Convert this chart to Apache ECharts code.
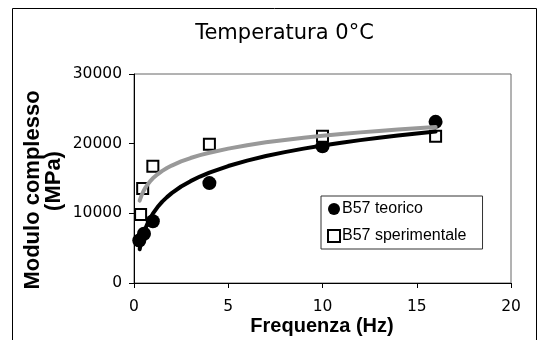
<!DOCTYPE html>
<html>
<head>
<meta charset="utf-8">
<script src="https://cdn.jsdelivr.net/npm/echarts@6/dist/echarts.min.js"></script>
<style>html,body{margin:0;padding:0;background:#fff;}#c{width:548px;height:340px;}</style>
</head>
<body>
<div id="c"></div>
<script>
// ---- data ----
const titleText = 'Temperatura 0°C';
const xTitle = 'Frequenza (Hz)';
const yTitle1 = 'Modulo complesso';
const yTitle2 = '(MPa)';
const seriesNames = ['B57 teorico', 'B57 sperimentale'];

const freqTeorico = [0.28, 0.53, 1, 4, 10, 16];
const valTeorico = [6090, 7060, 8870, 14340, 19630, 23130];
const freqSper = [0.35, 0.46, 1, 4, 10, 16];
const valSper = [9840, 13580, 16750, 19920, 21070, 21070];

// trendline curves as drawn in the picture (logarithmic trends), read at these frequencies
const trendX = [0.3, 0.4, 0.5, 0.6, 0.7, 0.85, 1, 1.25, 1.5, 1.75, 2, 2.5, 3, 3.5, 4, 5, 6, 7, 8, 9, 10, 11, 12, 13, 14, 15, 16];
const trendTeorico = [4840, 6060, 7010, 7780, 8440, 9260, 9950, 10900, 11680, 12330, 12900, 13850, 14620, 15280, 15840, 16790, 17570, 18220, 18790, 19290, 19740, 20140, 20510, 20850, 21170, 21460, 21730];
const trendSper = [11820, 12580, 13170, 13660, 14070, 14580, 15020, 15610, 16090, 16500, 16860, 17450, 17940, 18350, 18700, 19290, 19780, 20190, 20540, 20850, 21130, 21390, 21620, 21830, 22030, 22210, 22380];

const xTicks = {min: 0, max: 20, interval: 5};
const yTicks = {min: 0, max: 30000, interval: 10000};

function pairs(xs, ys) { return xs.map((x, i) => [x, ys[i]]); }

const chart = echarts.init(document.getElementById('c'), null, {renderer: 'canvas'});
const tickFont = 'DejaVu Sans';
chart.setOption({
  animation: false,
  backgroundColor: '#fff',
  grid: {left: 134, top: 74, width: 377, height: 209, show: true, borderColor: '#666', borderWidth: 1, backgroundColor: 'transparent'},
  xAxis: {
    type: 'value', min: xTicks.min, max: xTicks.max, interval: xTicks.interval,
    axisLine: {show: true, onZero: false, lineStyle: {color: '#000', width: 1}},
    axisTick: {show: true, inside: false, length: 5, lineStyle: {color: '#000'}},
    splitLine: {show: false},
    axisLabel: {color: '#000', fontSize: 15.5, fontFamily: tickFont, margin: 16, formatter: v => String(v)}
  },
  yAxis: {
    type: 'value', min: yTicks.min, max: yTicks.max, interval: yTicks.interval,
    axisLine: {show: true, onZero: false, lineStyle: {color: '#000', width: 1}},
    axisTick: {show: true, inside: false, length: 5, lineStyle: {color: '#000'}},
    splitLine: {show: false},
    axisLabel: {color: '#000', fontSize: 15.5, fontFamily: tickFont, margin: 12, formatter: v => String(v)}
  },
  legend: {
    data: seriesNames,
    orient: 'vertical',
    left: 321, top: 196,
    padding: [5, 16, 5, 6],
    itemGap: 11,
    itemWidth: 12, itemHeight: 12,
    borderColor: '#333', borderWidth: 1, backgroundColor: '#fff',
    textStyle: {color: '#000', fontSize: 16, lineHeight: 16, fontFamily: 'Liberation Sans', padding: [0, 0, 0, -3]}
  },
  series: [
    {name: seriesNames[0], type: 'scatter', symbol: 'circle', symbolSize: 14, z: 2,
     itemStyle: {color: '#000', opacity: 1}, data: pairs(freqTeorico, valTeorico)},
    {name: seriesNames[1], type: 'scatter', symbol: 'rect', symbolSize: 11, z: 2,
     itemStyle: {color: '#fff', borderColor: '#000', borderWidth: 2, opacity: 1}, data: pairs(freqSper, valSper)},
    {type: 'line', smooth: false, showSymbol: false, symbol: 'none', z: 3,
     lineStyle: {color: '#000', width: 4, join: 'round', cap: 'round'}, data: pairs(trendX, trendTeorico)},
    {type: 'line', smooth: false, showSymbol: false, symbol: 'none', z: 4,
     lineStyle: {color: '#999', width: 4, join: 'round', cap: 'round'}, data: pairs(trendX, trendSper)}
  ],
  graphic: [
    {type: 'rect', z: -1, silent: true, shape: {x: 12.5, y: 8.5, width: 524, height: 400},
     style: {fill: 'none', stroke: '#000', lineWidth: 1}},
    {type: 'text', x: 284.5, y: 33.5, silent: true,
     style: {text: titleText, fill: '#000', font: '21px "DejaVu Sans"', textAlign: 'center', textVerticalAlign: 'middle'}},
    {type: 'text', x: 322, y: 326, silent: true,
     style: {text: xTitle, fill: '#000', font: 'bold 20px "Liberation Sans"', textAlign: 'center', textVerticalAlign: 'middle'}},
    {type: 'text', x: 32.5, y: 190, rotation: Math.PI / 2, silent: true,
     style: {text: yTitle1, fill: '#000', font: 'bold 22px "Liberation Sans"', textAlign: 'center', textVerticalAlign: 'middle'}},
    {type: 'text', x: 54, y: 181, rotation: Math.PI / 2, silent: true,
     style: {text: yTitle2, fill: '#000', font: 'bold 22px "Liberation Sans"', textAlign: 'center', textVerticalAlign: 'middle'}}
  ]
});
</script>
</body>
</html>
